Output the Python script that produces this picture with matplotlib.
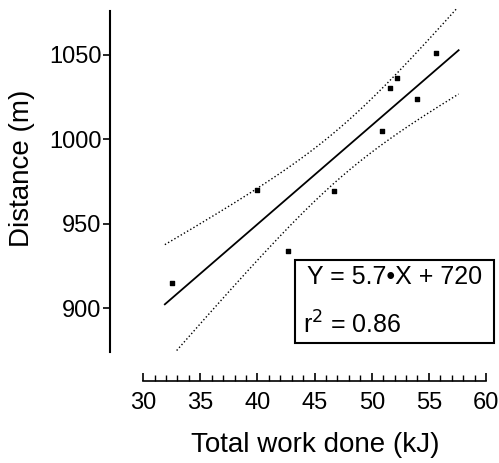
import numpy as np
import matplotlib.pyplot as plt
from matplotlib.patches import Rectangle

plt.rcParams['font.family'] = ['Liberation Sans', 'DejaVu Sans']

# total work done (kJ) vs distance (m)
work = [32.5, 40.0, 42.7, 46.7, 50.9, 51.6, 52.2, 54.0, 55.6]
distance = [915, 970, 934, 969, 1005, 1030, 1036, 1024, 1051]

eq_text = "Y = 5.7\u2022X + 720"
r2_text = "r$^2$ = 0.86"

x = np.array(work)
y = np.array(distance)
n = len(x)
slope, intercept = np.polyfit(x, y, 1)
resid = y - (slope * x + intercept)
s = np.sqrt(np.sum(resid**2) / (n - 2))
sxx = np.sum((x - x.mean())**2)
t = 2.365  # t(0.975, 7)

# fit line + 95% confidence band
xf = np.linspace(31.9, 57.6, 200)
yf = slope * xf + intercept
half = t * s * np.sqrt(1 / n + (xf - x.mean())**2 / sxx)
upper = yf + half
lower = yf - half
upper[(upper > 1078) | (upper < 874)] = np.nan
lower[(lower > 1078) | (lower < 874)] = np.nan

fig = plt.figure(figsize=(4.99, 4.63), dpi=100)
ax = fig.add_axes([0.2204, 0.1778, 0.7766, 0.8136])
ax.set_xlim(27.1, 61)
ax.set_ylim(857, 1080)

ax.plot(xf, yf, color='black', lw=1.3)
ax.plot(xf, upper, color='black', lw=1.0, ls=':')
ax.plot(xf, lower, color='black', lw=1.0, ls=':')
ax.scatter(x, y, s=12, marker='s', color='black', zorder=3)

for side in ['top', 'right']:
    ax.spines[side].set_visible(False)
ax.spines['left'].set_bounds(874, 1076)
ax.spines['bottom'].set_bounds(30, 60)
ax.spines['left'].set_linewidth(1.5)
ax.spines['bottom'].set_linewidth(1.2)

ax.set_yticks([900, 950, 1000, 1050])
ax.set_xticks([30, 35, 40, 45, 50, 55, 60])
ax.set_xticks(np.arange(30, 61, 1), minor=True)
ax.tick_params(axis='y', direction='out', length=5, width=1.2, labelsize=17, pad=1)
ax.tick_params(axis='x', which='major', direction='in', length=6, width=1.2, labelsize=17, pad=8)
ax.tick_params(axis='x', which='minor', direction='in', length=4, width=1.0)

ax.set_ylabel("Distance (m)", fontsize=20)
ax.yaxis.set_label_coords(-0.227, 0.565)
ax.yaxis.label.set_va('center')
ax.set_xlabel("Total work done (kJ)", fontsize=20)
ax.xaxis.set_label_coords(0.529, -0.171)
ax.xaxis.label.set_va('center')

ax.add_patch(Rectangle((43.3, 879.3), 17.4, 49.1, transform=ax.transData,
                       fill=False, edgecolor='black', lw=1.5, clip_on=False))
ax.text(44.35, 918.3, eq_text, fontsize=18, va='center', ha='left')
ax.text(44.0, 890, r2_text, fontsize=18, va='center', ha='left')

fig.savefig("out.png", dpi=100)
